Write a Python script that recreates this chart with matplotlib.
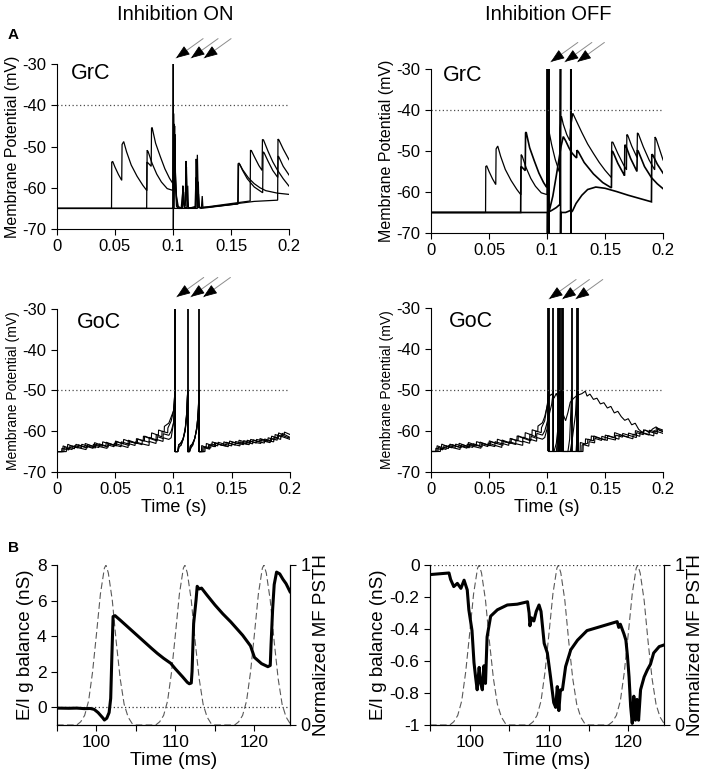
#!/usr/bin/env python3

import numpy as np
import matplotlib
matplotlib.use('Agg')
import matplotlib.pyplot as plt

plt.rcParams['font.family'] = ['Liberation Sans', 'DejaVu Sans']
plt.rcParams['axes.unicode_minus'] = False

# ---------------- GrC traces (t in s, V in mV) ----------------
# pre-stimulus part, identical for inhibition ON / OFF
grc_pre1 = [(0, -65), (0.0470, -65), (0.0472, -53.8), (0.0480, -53.6), (0.0500, -55.0), (0.0530, -56.8),
            (0.0558, -58.2), (0.0561, -49.5), (0.0575, -48.8), (0.0600, -51.3), (0.0640, -54.5),
            (0.0690, -57.2), (0.0740, -59.4), (0.0775, -60.7), (0.0777, -50.9), (0.0785, -51.2),
            (0.0820, -54.1), (0.0860, -56.7), (0.0900, -58.6), (0.0950, -60.2), (0.0995, -60.6)]
grc_pre2 = [(0, -65), (0.0773, -65), (0.0775, -53.8), (0.0782, -53.9), (0.0812, -54.8), (0.0815, -45.6),
            (0.0820, -45.4), (0.0850, -49.2), (0.0890, -52.4), (0.0930, -55.4), (0.0970, -57.7),
            (0.0995, -58.8)]
grc_pre3 = [(0, -65), (0.0995, -65)]

# post-stimulus, inhibition ON
grc_on1 = [(0.1000, -60.5), (0.1008, -44.5), (0.1012, -52), (0.1016, -47), (0.1022, -58), (0.1030, -62.5),
           (0.1040, -64.5), (0.1060, -65), (0.1078, -64.8), (0.1085, -59.5), (0.1090, -63.5), (0.1100, -64.8),
           (0.1108, -63.0), (0.1113, -53.5), (0.1118, -60), (0.1123, -64.5), (0.1135, -65), (0.1190, -64.8),
           (0.1198, -57.5), (0.1203, -62), (0.1210, -52), (0.1216, -60), (0.1222, -64.5), (0.1240, -65),
           (0.1300, -64.8), (0.1558, -63.9), (0.1561, -54.2), (0.1570, -54.0), (0.1600, -55.8),
           (0.1640, -57.8), (0.1700, -59.8), (0.1773, -61.2), (0.1776, -51.3), (0.1785, -51.5),
           (0.1820, -53.6), (0.1860, -55.8), (0.1903, -57.5), (0.1906, -52.3), (0.1912, -52.5),
           (0.1950, -54.8), (0.2000, -56.9)]
grc_on2 = [(0.1000, -58.8), (0.1005, -42), (0.1010, -50), (0.1014, -45), (0.1020, -56), (0.1030, -62),
           (0.1045, -64.5), (0.1070, -65), (0.1088, -60), (0.1094, -64), (0.1105, -64.5), (0.1110, -57),
           (0.1116, -55), (0.1122, -63), (0.1135, -65), (0.1195, -64.5), (0.1200, -53), (0.1206, -60.5),
           (0.1213, -63.8), (0.1220, -61.5), (0.1228, -64.8), (0.1300, -64.7), (0.1562, -63.9),
           (0.1565, -54.5), (0.1575, -54.3), (0.1600, -55.6), (0.1650, -57.6), (0.1700, -59.0),
           (0.1750, -60.0), (0.1800, -60.7), (0.1900, -61.3), (0.2000, -61.6)]
grc_on3 = [(0.1000, -65), (0.1002, -30), (0.1003, -70), (0.1004, -65), (0.1080, -65), (0.1092, -61),
           (0.1097, -64.8), (0.1120, -64.8), (0.1127, -59.5), (0.1133, -64.8), (0.1195, -65), (0.1203, -55),
           (0.1209, -64.8), (0.1245, -64.8), (0.1252, -62), (0.1258, -64.8), (0.1300, -64.6),
           (0.1665, -63.2), (0.1668, -50.9), (0.1676, -51.0), (0.1700, -52.4), (0.1740, -54.6),
           (0.1768, -55.8), (0.1771, -48.3), (0.1780, -48.4), (0.1820, -51.2), (0.1860, -53.7),
           (0.1900, -55.7), (0.1950, -57.8), (0.2000, -59.6)]
grc_on4 = [(0.1000, -65), (0.1010, -65), (0.1016, -48), (0.1022, -60), (0.1030, -64.5), (0.1045, -65),
           (0.1210, -65), (0.1218, -58.5), (0.1224, -64.8), (0.1300, -64.7), (0.1560, -63.8),
           (0.1700, -63.3), (0.1902, -63.0), (0.1905, -48.2), (0.1913, -48.4), (0.1950, -50.6),
           (0.2000, -53.2)]

# post-stimulus, inhibition OFF
grc_off1 = [(0.1000, -60.5), (0.1006, -43.5), (0.1012, -44.5), (0.1040, -48.5), (0.1070, -52.0),
            (0.1100, -54.6), (0.1108, -55.2), (0.1112, -44.5), (0.1124, -41.5), (0.1140, -43.5),
            (0.1170, -46.0), (0.1196, -47.5), (0.1200, -45), (0.1222, -40.8), (0.1250, -42.5),
            (0.1300, -45.5), (0.1350, -48.3), (0.1400, -50.6), (0.1450, -52.8), (0.1500, -54.7),
            (0.1555, -56.5), (0.1558, -47.8), (0.1568, -47.9), (0.1610, -50.6), (0.1660, -53.4),
            (0.1685, -54.6), (0.1688, -46.0), (0.1696, -46.2), (0.1730, -48.8), (0.1776, -51.6),
            (0.1779, -45.6), (0.1787, -45.8), (0.1830, -49.0), (0.1880, -52.2), (0.1928, -54.6),
            (0.1931, -46.6), (0.1940, -47.0), (0.1970, -49.6), (0.2000, -52.2)]
grc_off2 = [(0.1000, -58.6), (0.1002, -52), (0.1003, -30), (0.1004, -70), (0.1005, -65), (0.1040, -64.5),
            (0.1080, -63.8), (0.1112, -63.0), (0.1116, -30), (0.1117, -70), (0.1118, -65), (0.1160, -65),
            (0.1203, -64.5), (0.1205, -30), (0.1206, -70), (0.1207, -65), (0.1220, -64.6), (0.1250, -62.8),
            (0.1300, -60.8), (0.1350, -59.4), (0.1420, -58.8), (0.1500, -59.1), (0.1600, -59.9),
            (0.1700, -60.8), (0.1800, -61.6), (0.1900, -62.4), (0.1903, -50.8), (0.1912, -51.0),
            (0.1950, -53.2), (0.2000, -55.4)]
grc_off3 = [(0.1000, -65), (0.1013, -65), (0.1014, -30), (0.1015, -70), (0.1016, -65), (0.1050, -61),
            (0.1080, -56), (0.1100, -52.5), (0.1120, -49), (0.1140, -46.5), (0.1160, -47.5), (0.1190, -49.3),
            (0.1215, -50.5), (0.1240, -51.3), (0.1255, -51.7), (0.1258, -49.8), (0.1270, -50.2),
            (0.1320, -52.8), (0.1400, -55.6), (0.1480, -57.7), (0.1555, -59.0), (0.1558, -50.0),
            (0.1568, -50.2), (0.1610, -53.0), (0.1660, -55.6), (0.1668, -56.0), (0.1671, -48.5),
            (0.1680, -48.8), (0.1720, -51.8), (0.1775, -55.0), (0.1778, -49.8), (0.1787, -50.1),
            (0.1840, -53.8), (0.1900, -56.5), (0.1950, -58.0), (0.2000, -59.2)]

# ---------------- GoC traces ----------------
goc_pre1 = [(0, -65), (0.005, -65), (0.0052, -63.6), (0.009, -64.0), (0.0092, -63.2), (0.014, -63.8),
            (0.018, -64.1), (0.0182, -63.3), (0.024, -63.9), (0.0242, -63.0), (0.030, -63.6), (0.036, -64.0),
            (0.0362, -63.1), (0.042, -63.6), (0.0422, -62.7), (0.048, -63.3), (0.055, -63.8), (0.0552, -62.6),
            (0.061, -63.1), (0.0612, -62.2), (0.067, -62.8), (0.073, -63.3), (0.0732, -62.2), (0.079, -62.7),
            (0.0792, -61.5), (0.085, -62.1), (0.0852, -60.8), (0.090, -61.4), (0.0902, -60.0), (0.095, -60.4),
            (0.0952, -59.2), (0.098, -57.5)]
goc_pre2 = [(0, -65), (0.006, -65), (0.0062, -64.0), (0.011, -64.4), (0.0112, -63.5), (0.016, -64.0),
            (0.0162, -63.2), (0.021, -63.7), (0.026, -64.1), (0.0262, -63.3), (0.032, -63.8), (0.0322, -62.8),
            (0.038, -63.4), (0.044, -63.9), (0.0442, -63.0), (0.050, -63.5), (0.0502, -62.4), (0.056, -63.0),
            (0.062, -63.5), (0.0622, -62.5), (0.068, -63.0), (0.0682, -61.8), (0.074, -62.4), (0.0742, -61.2),
            (0.080, -61.8), (0.086, -62.4), (0.0862, -61.3), (0.091, -61.8), (0.0912, -60.6), (0.096, -61.0),
            (0.098, -60.0)]
goc_pre3 = [(0, -65), (0.008, -65), (0.0082, -64.1), (0.013, -64.5), (0.0132, -63.6), (0.019, -64.1),
            (0.025, -64.5), (0.0252, -63.7), (0.031, -64.2), (0.0312, -63.2), (0.037, -63.8), (0.043, -64.2),
            (0.0432, -63.3), (0.049, -63.8), (0.0492, -62.9), (0.055, -63.5), (0.061, -64.0), (0.0612, -63.0),
            (0.067, -63.5), (0.0672, -62.6), (0.073, -63.1), (0.079, -63.5), (0.0792, -62.5), (0.085, -63.0),
            (0.0852, -62.0), (0.091, -62.5), (0.0912, -61.6), (0.096, -62.0), (0.098, -61.6)]
goc_pre4 = [(0, -65), (0.004, -65), (0.0042, -64.2), (0.010, -64.6), (0.0102, -63.9), (0.015, -64.3),
            (0.0152, -63.5), (0.021, -64.0), (0.0212, -63.2), (0.027, -63.7), (0.033, -64.1), (0.0332, -63.2),
            (0.039, -63.7), (0.0392, -62.6), (0.045, -63.1), (0.051, -63.6), (0.0512, -62.6), (0.057, -63.1),
            (0.0572, -62.0), (0.063, -62.6), (0.069, -63.0), (0.0692, -61.9), (0.075, -62.4), (0.0752, -61.2),
            (0.081, -61.8), (0.0812, -60.4), (0.087, -61.0), (0.0872, -59.7), (0.092, -60.2), (0.0922, -58.8),
            (0.096, -58.0), (0.098, -56.5)]

# inhibition ON: regular spikes, then reset
goc_on_spikes = [0.1009, 0.1013, 0.1122, 0.1219]
goc_on_burst_a = [(0.1000, -55), (0.1008, -52), (0.1013, -50), (0.1013, -65), (0.1035, -65), (0.1045, -63.3),
                  (0.1060, -63.0), (0.1080, -62.0), (0.1100, -60), (0.1112, -56.5), (0.1122, -50),
                  (0.1122, -65), (0.1135, -65), (0.1145, -63.6), (0.1160, -63.2), (0.1180, -62.0),
                  (0.1200, -59.5), (0.1212, -55.5), (0.1219, -50), (0.1219, -65)]
goc_on_burst_b = [(0.1000, -58), (0.1008, -54), (0.1013, -50), (0.1013, -65), (0.1038, -65), (0.1048, -63.8),
                  (0.1065, -63.4), (0.1085, -61.8), (0.1102, -59), (0.1115, -55), (0.1122, -50),
                  (0.1122, -65), (0.1138, -65), (0.1150, -64.0), (0.1165, -63.4), (0.1185, -61.5),
                  (0.1203, -58.5), (0.1214, -54.5), (0.1219, -50), (0.1219, -65)]
goc_on_post1 = [(0.1225, -65), (0.124, -65), (0.1242, -63.5), (0.128, -64.0), (0.1282, -63.0), (0.133, -63.5),
                (0.1332, -62.6), (0.138, -63.1), (0.143, -63.5), (0.1432, -62.6), (0.148, -63.1), (0.1482, -62.4),
                (0.154, -62.9), (0.160, -63.3), (0.1602, -62.3), (0.166, -62.8), (0.1662, -62.0), (0.172, -62.5),
                (0.178, -62.9), (0.1782, -61.9), (0.184, -62.4), (0.1842, -61.2), (0.190, -61.7), (0.1902, -60.4),
                (0.195, -61.0), (0.1952, -60.2), (0.200, -60.8)]
goc_on_post2 = [(0.1225, -65), (0.126, -65), (0.1262, -64.0), (0.131, -64.4), (0.1312, -63.4), (0.136, -63.8),
                (0.1362, -62.9), (0.141, -63.4), (0.147, -63.8), (0.1472, -62.9), (0.153, -63.4), (0.1532, -62.5),
                (0.159, -63.0), (0.165, -63.3), (0.1652, -62.4), (0.171, -62.9), (0.1712, -62.0), (0.177, -62.4),
                (0.183, -62.8), (0.1832, -61.7), (0.189, -62.2), (0.1892, -60.9), (0.195, -61.5), (0.200, -62.0)]
goc_on_post3 = [(0.1225, -65), (0.125, -65), (0.1252, -63.8), (0.130, -64.2), (0.1302, -63.3), (0.135, -63.8),
                (0.1352, -62.8), (0.140, -63.3), (0.145, -63.6), (0.1452, -62.7), (0.151, -63.2), (0.157, -63.6),
                (0.1572, -62.6), (0.163, -63.1), (0.1632, -62.2), (0.169, -62.7), (0.175, -63.0), (0.1752, -62.0),
                (0.181, -62.5), (0.1812, -61.6), (0.187, -62.1), (0.1872, -60.8), (0.193, -61.4), (0.1932, -60.5),
                (0.200, -61.5)]
goc_on_post4 = [(0.1225, -65), (0.127, -65), (0.1272, -63.8), (0.132, -64.1), (0.1322, -63.1), (0.138, -63.6),
                (0.1382, -62.7), (0.144, -63.2), (0.150, -63.6), (0.1502, -62.7), (0.156, -63.1), (0.1562, -62.2),
                (0.162, -62.7), (0.168, -63.1), (0.1682, -62.1), (0.174, -62.6), (0.1742, -61.8), (0.180, -62.3),
                (0.186, -62.6), (0.1862, -61.5), (0.192, -62.0), (0.1922, -60.9), (0.197, -61.4), (0.200, -61.7)]

# inhibition OFF: irregular spiking
goc_off_spikes = [0.1011, 0.1018, 0.1055, 0.1098, 0.1106, 0.1112, 0.1126, 0.1141, 0.1213, 0.1256, 0.1270]
goc_off_a = [(0.1005, -53.5), (0.1020, -51.5), (0.1040, -51), (0.1060, -52), (0.1080, -50.8), (0.1100, -52.5),
             (0.1120, -54.5), (0.1140, -56), (0.1160, -57.5), (0.1180, -55.5), (0.1200, -53), (0.1230, -52),
             (0.1260, -51.3), (0.1300, -50.9), (0.1330, -50.3), (0.1345, -51.5), (0.1370, -51.0), (0.1400, -52.3),
             (0.1430, -52.0), (0.1460, -53.4), (0.1490, -53.1), (0.1520, -54.4), (0.1550, -54.0), (0.1580, -55.6),
             (0.1610, -55.2), (0.1640, -56.5), (0.1670, -57.4), (0.1700, -57.0), (0.1730, -58.5), (0.1760, -58.1),
             (0.1790, -59.6), (0.1820, -60.3), (0.1850, -59.8), (0.1880, -60.4), (0.1910, -59.5), (0.1940, -59.0),
             (0.1970, -59.8), (0.2000, -60.1)]
goc_off_b = [(0.1005, -53), (0.1011, -50), (0.1011, -65), (0.1060, -65), (0.1080, -63), (0.1095, -59),
             (0.1106, -53), (0.1112, -50), (0.1112, -65), (0.1300, -65), (0.1302, -63.4), (0.135, -63.0),
             (0.1352, -62.0), (0.140, -62.4), (0.1402, -61.2), (0.146, -61.8), (0.152, -62.3), (0.1522, -61.1),
             (0.158, -61.6), (0.1582, -60.4), (0.164, -61.0), (0.170, -61.5), (0.1702, -60.5), (0.176, -61.0),
             (0.1762, -59.9), (0.182, -60.5), (0.188, -61.0), (0.1882, -59.8), (0.194, -60.3), (0.1942, -59.2),
             (0.200, -59.8)]
goc_off_c = [(0.1010, -57), (0.1040, -53.5), (0.1055, -50), (0.1055, -65), (0.1100, -65), (0.1115, -62.5),
             (0.1130, -56), (0.1141, -50), (0.1141, -65), (0.1200, -65), (0.1220, -61.5), (0.1245, -56),
             (0.1256, -50), (0.1256, -65), (0.1285, -65), (0.1287, -62.8), (0.133, -63.2), (0.1332, -61.9),
             (0.138, -62.3), (0.1382, -61.2), (0.144, -61.7), (0.150, -62.2), (0.1502, -61.0), (0.156, -61.5),
             (0.162, -62.0), (0.1622, -60.9), (0.168, -61.4), (0.174, -61.9), (0.1742, -60.8), (0.180, -61.3),
             (0.1802, -60.2), (0.186, -60.7), (0.192, -61.2), (0.1922, -59.9), (0.198, -60.4), (0.200, -60.6)]
goc_off_d = [(0.1000, -59.5), (0.1018, -50), (0.1018, -65), (0.1080, -65), (0.1090, -62), (0.1098, -50),
             (0.1098, -65), (0.1110, -65), (0.1118, -60), (0.1126, -50), (0.1126, -65), (0.1180, -65),
             (0.1195, -62), (0.1213, -50), (0.1213, -65), (0.1250, -65), (0.1262, -60), (0.1270, -50),
             (0.1270, -65), (0.1310, -65), (0.1312, -63.3), (0.136, -63.7), (0.1362, -62.6), (0.141, -62.9),
             (0.1412, -61.8), (0.147, -62.3), (0.1472, -61.3), (0.153, -61.8), (0.159, -62.2), (0.1592, -61.0),
             (0.165, -61.5), (0.1652, -60.6), (0.171, -61.1), (0.177, -61.6), (0.1772, -60.4), (0.183, -60.9),
             (0.1832, -59.7), (0.189, -60.2), (0.195, -60.7), (0.1952, -59.6), (0.200, -60.2)]

# arrow tip times (stimulus volleys)
grc_on_arrows = [0.1026, 0.1155, 0.1267]
grc_off_arrows = [0.1032, 0.1153, 0.1261]
goc_on_arrows = [0.1027, 0.1148, 0.1256]
goc_off_arrows = [0.1017, 0.1132, 0.1247]

# ---------------- Panel B (t in ms) ----------------
ei_on = [(95.0, -0.05), (96.5, -0.06), (97.5, -0.05), (98.5, -0.08), (99.2, -0.07), (99.7, -0.12), (100.2, -0.3),
         (100.5, -0.45), (100.8, -0.6), (101.0, -0.72), (101.3, -0.62), (101.6, -0.3), (101.8, 0.5),
         (101.95, 2.9), (102.1, 5.1), (102.35, 5.15), (103.0, 4.9), (104.0, 4.5), (105.0, 4.1), (106.0, 3.7),
         (107.0, 3.3), (107.7, 3.03), (108.5, 2.75), (109.4, 2.47), (110.0, 2.15), (110.9, 1.71), (111.5, 1.4),
         (111.75, 1.32), (112.0, 1.36), (112.1, 2.0), (112.3, 4.7), (112.6, 6.0), (112.75, 6.8), (113.0, 6.65),
         (113.3, 6.7), (114.0, 6.3), (115.0, 5.75), (116.0, 5.25), (117.0, 4.8), (117.5, 4.55), (118.5, 4.05),
         (119.5, 3.45), (120.0, 2.8), (120.9, 2.45), (121.7, 2.28), (122.0, 2.35), (122.1, 3.5), (122.3, 5.5),
         (122.5, 6.9), (122.8, 7.6), (123.2, 7.5), (123.6, 7.2), (124.0, 6.95), (124.5, 6.5)]
ei_off = [(95.0, -0.06), (97.4, -0.05), (97.6, -0.09), (98.0, -0.135), (98.45, -0.115), (98.9, -0.146),
          (99.3, -0.095), (99.7, -0.156), (99.9, -0.28), (100.3, -0.41), (100.55, -0.61), (100.75, -0.70),
          (100.95, -0.78), (101.2, -0.64), (101.4, -0.74), (101.6, -0.78), (101.8, -0.63), (102.0, -0.74),
          (102.2, -0.45), (102.65, -0.32), (103.5, -0.28), (104.75, -0.25), (106.0, -0.245), (107.3, -0.23),
          (107.5, -0.30), (107.6, -0.38), (107.8, -0.33), (108.1, -0.35), (108.4, -0.29), (108.75, -0.25),
          (109.0, -0.29), (109.4, -0.49), (109.8, -0.55), (110.2, -0.70), (110.6, -0.86), (110.85, -0.89),
          (111.05, -0.76), (111.25, -0.91), (111.45, -0.78), (111.7, -0.78), (112.1, -0.635), (112.75, -0.53),
          (113.6, -0.47), (114.8, -0.41), (116.5, -0.385), (118.6, -0.354), (118.8, -0.39), (119.0, -0.37),
          (119.45, -0.43), (119.7, -0.47), (119.9, -0.57), (120.1, -0.70), (120.3, -0.885), (120.5, -0.99),
          (120.7, -0.82), (120.9, -0.97), (121.1, -0.84), (121.3, -0.97), (121.55, -0.78), (122.0, -0.70),
          (122.4, -0.656), (122.8, -0.62), (123.2, -0.55), (123.9, -0.51), (124.5, -0.50)]
# normalized mossy fibre PSTH (dashed)
mf_psth = [(95, 0), (97.5, 0), (98, 0.02), (98.5, 0.06), (99, 0.15), (99.5, 0.33), (100, 0.57), (100.5, 0.82),
           (101, 0.98), (101.2, 1.0), (101.5, 0.95), (102, 0.78), (102.5, 0.52), (103, 0.29), (103.5, 0.13),
           (104, 0.05), (104.5, 0.01), (105, 0), (107.5, 0), (108, 0.02), (108.5, 0.06), (109, 0.15),
           (109.5, 0.33), (110, 0.57), (110.5, 0.82), (111, 0.98), (111.2, 1.0), (111.5, 0.95), (112, 0.78),
           (112.5, 0.52), (113, 0.29), (113.5, 0.13), (114, 0.05), (114.5, 0.01), (115, 0), (117.5, 0),
           (118, 0.02), (118.5, 0.06), (119, 0.15), (119.5, 0.33), (120, 0.57), (120.5, 0.82), (121, 0.98),
           (121.2, 1.0), (121.5, 0.95), (122, 0.78), (122.5, 0.52), (123, 0.29), (123.5, 0.13), (124, 0.05),
           (124.5, 0.01)]


def trace(ax, *parts, lw=0.9):
    pts = np.array([p for part in parts for p in part])
    ax.plot(pts[:, 0], pts[:, 1], color='black', lw=lw, solid_joinstyle='miter')


def style_a(ax, ylab_size):
    ax.set_xlim(0, 0.2)
    ax.set_ylim(-70, -30)
    ax.set_xticks([0, 0.05, 0.1, 0.15, 0.2], ['0', '0.05', '0.1', '0.15', '0.2'])
    ax.set_yticks([-70, -60, -50, -40, -30])
    ax.spines['top'].set_visible(False)
    ax.spines['right'].set_visible(False)
    ax.tick_params(direction='out', length=4, labelsize=12)
    ax.set_ylabel('Membrane Potential (mV)', fontsize=ylab_size, labelpad=2)


def arrows(ax, times, ytip):
    for t in times:
        ax.annotate('', xy=(t, ytip), xycoords=('data', 'axes fraction'), xytext=(19.5, 14),
                    textcoords='offset points', annotation_clip=False,
                    arrowprops=dict(arrowstyle='-', color='0.55', lw=0.7, shrinkA=0, shrinkB=0))
        ax.annotate('', xy=(t, ytip), xycoords=('data', 'axes fraction'), xytext=(7, 5),
                    textcoords='offset points', annotation_clip=False,
                    arrowprops=dict(arrowstyle='-|>,head_length=0.85,head_width=0.32',
                                    color='black', lw=0.6, shrinkA=0, shrinkB=0))


fig = plt.figure(figsize=(7.08, 7.73), dpi=100)

ax1 = fig.add_axes([0.0805, 0.7037, 0.3277, 0.2135])
ax2 = fig.add_axes([0.6088, 0.6986, 0.3277, 0.2122])
ax3 = fig.add_axes([0.0805, 0.3894, 0.3291, 0.2109])
ax4 = fig.add_axes([0.6088, 0.3894, 0.3277, 0.2122])
ax5 = fig.add_axes([0.0805, 0.0621, 0.3291, 0.2070])
ax6 = fig.add_axes([0.6073, 0.0621, 0.3305, 0.2070])

# GrC, inhibition ON
trace(ax1, grc_pre1, grc_on1)
trace(ax1, grc_pre2, grc_on2)
trace(ax1, grc_pre3, grc_on3)
trace(ax1, grc_pre3, grc_on4)
ax1.axhline(-40, color='0.3', ls=(0, (1, 2)), lw=0.9)
style_a(ax1, 11.5)
ax1.text(0.145, 0.945, 'GrC', transform=ax1.transAxes, fontsize=15.5, ha='center', va='center')
arrows(ax1, grc_on_arrows, 1.036)

# GrC, inhibition OFF
trace(ax2, grc_pre1, grc_off1)
trace(ax2, grc_pre2, grc_off2, lw=1.2)
trace(ax2, grc_pre3, grc_off3, lw=1.2)
ax2.axhline(-40, color='0.3', ls=(0, (1, 2)), lw=0.9)
style_a(ax2, 11.5)
ax2.text(0.135, 0.962, 'GrC', transform=ax2.transAxes, fontsize=15.5, ha='center', va='center')
arrows(ax2, grc_off_arrows, 1.043)

# GoC, inhibition ON
trace(ax3, goc_pre1, goc_on_burst_a, goc_on_post1, lw=0.8)
trace(ax3, goc_pre2, goc_on_burst_b, goc_on_post2, lw=0.8)
trace(ax3, goc_pre3, goc_on_burst_b, goc_on_post3, lw=0.8)
trace(ax3, goc_pre4, goc_on_burst_a, goc_on_post4, lw=0.8)
ax3.vlines(goc_on_spikes, -65, -30, color='black', lw=1.3)
ax3.axhline(-50, color='0.3', ls=(0, (1, 2)), lw=0.9)
style_a(ax3, 10)
ax3.set_xlabel('Time (s)', fontsize=13, labelpad=1)
ax3.text(0.18, 0.92, 'GoC', transform=ax3.transAxes, fontsize=15.5, ha='center', va='center')
arrows(ax3, goc_on_arrows, 1.074)

# GoC, inhibition OFF
trace(ax4, goc_pre4, goc_off_a, lw=0.8)
trace(ax4, goc_pre1, goc_off_b, lw=0.8)
trace(ax4, goc_pre2, goc_off_c, lw=0.8)
trace(ax4, goc_pre3, goc_off_d, lw=0.8)
ax4.vlines(goc_off_spikes, -65, -30, color='black', lw=1.3)
ax4.axhline(-50, color='0.3', ls=(0, (1, 2)), lw=0.9)
style_a(ax4, 10)
ax4.set_xlabel('Time (s)', fontsize=13, labelpad=1)
ax4.text(0.171, 0.92, 'GoC', transform=ax4.transAxes, fontsize=15.5, ha='center', va='center')
arrows(ax4, goc_off_arrows, 1.055)


def panel_b(ax, ei, ylim, yticks, yticklabels):
    ei = np.array(ei)
    ps = np.array(mf_psth)
    axr = ax.twinx()
    axr.plot(ps[:, 0], ps[:, 1], color='0.35', lw=0.8, ls=(0, (6, 3)))
    axr.set_ylim(0, 1)
    axr.set_yticks([0, 1], ['0', '1'])
    axr.set_ylabel('Normalized MF PSTH', fontsize=13.5, labelpad=2)
    axr.tick_params(direction='out', length=4, labelsize=13)
    ax.set_zorder(axr.get_zorder() + 1)
    ax.patch.set_visible(False)
    ax.axhline(0, color='0.2', ls=(0, (1, 2)), lw=0.9)
    ax.plot(ei[:, 0], ei[:, 1], color='black', lw=2.2)
    ax.set_xlim(95, 124.5)
    ax.set_ylim(*ylim)
    ax.set_yticks(yticks, yticklabels)
    ax.set_xticks([95, 100, 105, 110, 115, 120], ['', '100', '', '110', '', '120'])
    ax.tick_params(direction='out', length=4, labelsize=12.5)
    ax.set_xlabel('Time (ms)', fontsize=14, labelpad=1)
    ax.set_ylabel('E/I g balance (nS)', fontsize=13.5, labelpad=2)
    for a in (ax, axr):
        a.spines['top'].set_visible(False)
        a.set_xlim(95, 124.5)


panel_b(ax5, ei_on, (-1, 8), [0, 2, 4, 6, 8], ['0', '2', '4', '6', '8'])
panel_b(ax6, ei_off, (-1, 0), [-1, -0.8, -0.6, -0.4, -0.2, 0],
        ['-1', '-0.8', '-0.6', '-0.4', '-0.2', '0'])

fig.text(0.247, 0.981, 'Inhibition ON', fontsize=14.5, ha='center', va='center')
fig.text(0.774, 0.981, 'Inhibition OFF', fontsize=14.5, ha='center', va='center')
fig.text(0.011, 0.955, 'A', fontsize=11, fontweight='bold', ha='left', va='center')
fig.text(0.011, 0.291, 'B', fontsize=11, fontweight='bold', ha='left', va='center')

fig.savefig('out.png', dpi=100)
